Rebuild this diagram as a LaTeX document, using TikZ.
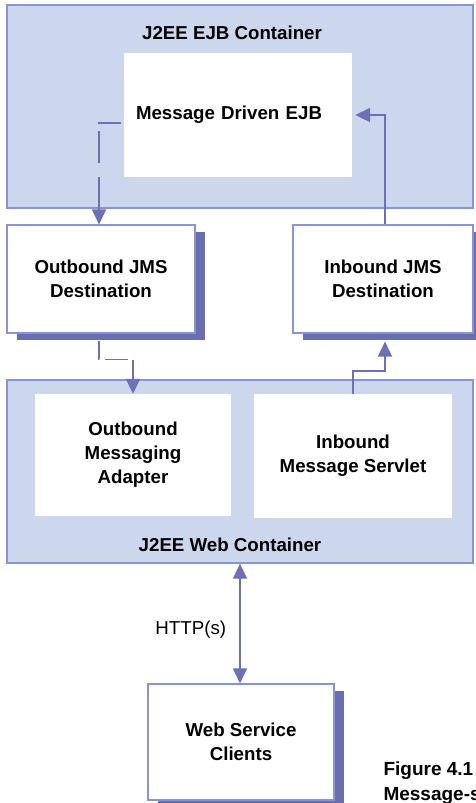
\documentclass[tikz,border=0pt]{standalone}
\usepackage{fontspec}
\setmainfont{Liberation Sans}
\usetikzlibrary{positioning, arrows.meta, shadows}
\definecolor{contfill}{RGB}{204,214,236}
\definecolor{contline}{RGB}{135,150,210}
\definecolor{shadowc}{RGB}{106,109,176}
\definecolor{flowc}{RGB}{108,112,182}

\begin{document}
\begin{tikzpicture}[x=1pt, y=-1pt, font=\fontsize{18.7}{24}\selectfont\bfseries,
   container/.style={draw=contline, line width=1.3pt, fill=contfill, minimum width=466pt, inner sep=0pt},
   inner/.style={fill=white, align=center, inner sep=0pt},
   queue/.style={draw=contline, line width=1.1pt, fill=white, align=center, inner sep=0pt,
      copy shadow={shadow xshift=10pt, shadow yshift=-7pt, fill=shadowc, draw=none}},
   flow/.style={draw=flowc, line width=1.8pt, -{Triangle[width=14pt,length=15pt]}},
   dflow/.style={flow, dash pattern=on 22pt off 8pt on 32pt off 14pt on 60pt}]
   \useasboundingbox (0,0) rectangle (475,803);

   % EJB 容器
   \node[container, minimum height=203pt] (ejb) at (240,106.5) {};
   \node (ejbTitle) at (232,33) {J2EE EJB Container};
   \node[inner, align=left, text width=204pt, inner xsep=12pt, minimum height=124pt] (mdb) at (238,115) {Message Driven EJB};

   % JMS 目的地
   \node[queue, minimum width=188pt, minimum height=108pt] (outJms) at (101,279) {Outbound JMS\\Destination};
   \node[queue, minimum width=180pt, minimum height=108pt] (inJms) at (383,279) {Inbound JMS\\Destination};

   % Web 容器
   \node[container, minimum height=183pt] (web) at (240,471.5) {};
   \node (webTitle) at (230,545) {J2EE Web Container};
   \node[inner, minimum width=196pt, minimum height=122pt] (adapter) at (133,455) {Outbound\\Messaging\\Adapter};
   \node[inner, minimum width=198pt, minimum height=124pt] (servlet) at (353,456) {Inbound\\Message Servlet};

   % 客户端
   \node[queue, minimum width=186pt, minimum height=116pt] (clients) at (241,742) {Web Service\\Clients};
   \node[anchor=west, align=left, font=\fontsize{19}{25}\selectfont\bfseries] (caption) at (380,783) {Figure 4.1\\Message-s};

   % 消息流
   \draw[dflow] ([xshift=-3pt, yshift=-8pt]mdb.west) -| ([xshift=-2pt]outJms.north);
   \draw[flow, dash pattern=on 19pt off 6pt on 23pt off 5pt on 60pt] ([xshift=-2pt, yshift=-7pt]outJms.south) -- ++(0,19) -| (adapter.north);
   \draw[flow] (servlet.north) -- ++(0,-23) -| ([xshift=2pt, yshift=-8pt]inJms.south);
   \draw[flow] ([xshift=2pt]inJms.north) |- ([xshift=3pt]mdb.east);
   \draw[flow, {Triangle[width=14pt,length=15pt]}-{Triangle[width=14pt,length=15pt]}] (web.south) -- node[left, pos=0.55, font=\fontsize{18.7}{24}\selectfont, inner sep=13pt] (http) {HTTP(s)} (web.south |- clients.north);
\end{tikzpicture}
\end{document}
